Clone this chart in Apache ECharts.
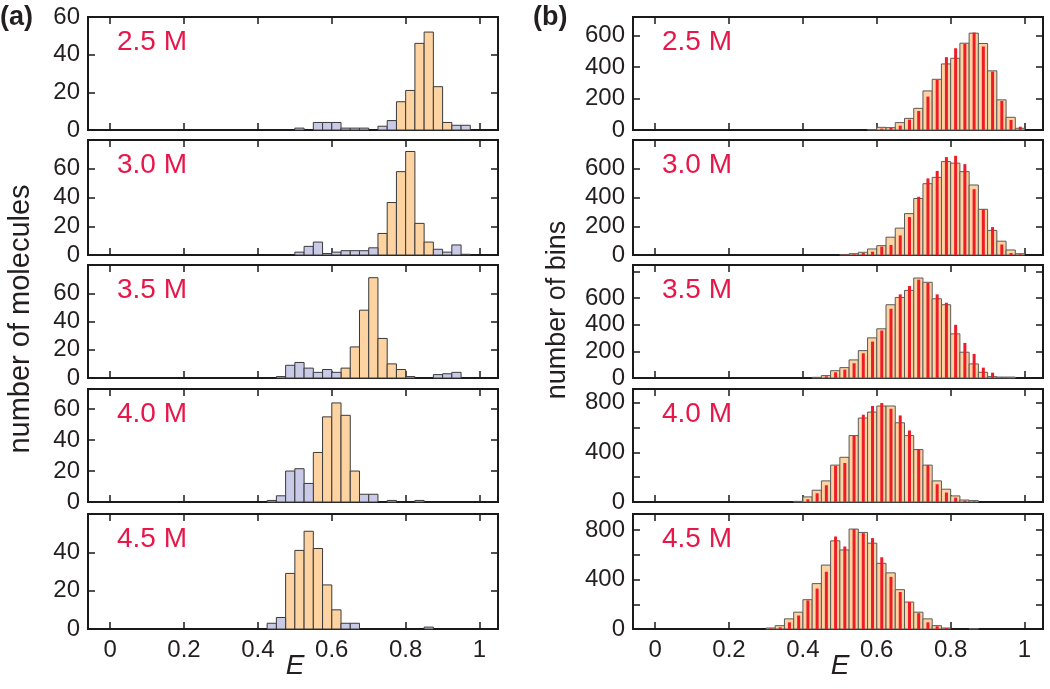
<!DOCTYPE html>
<html>
<head>
<meta charset="utf-8">
<script src="https://cdn.jsdelivr.net/npm/echarts@6/dist/echarts.min.js"></script>
<style>
html, body { margin: 0; padding: 0; background: #fff; }
#main { width: 1050px; height: 689px; }
</style>
</head>
<body>
<div id="main"></div>
<script>
// 浓度标签
var conc = ['2.5 M', '3.0 M', '3.5 M', '4.0 M', '4.5 M'];
var binW = 0.025;

// (a) 分子直方图, bin 起点 0.4 ... 0.975
var binsA = [0.4, 0.425, 0.45, 0.475, 0.5, 0.525, 0.55, 0.575, 0.6, 0.625, 0.65, 0.675,
             0.7, 0.725, 0.75, 0.775, 0.8, 0.825, 0.85, 0.875, 0.9, 0.925, 0.95, 0.975];
var org25a = [0,0,0,0,0,0,0,0,0,0,0,0,0,0,0,15,21,46,52,23,4,0,0,0];
var lav25a = [0,0,0,0,1,0,4,4,4,1,1,1,0,2,5,0,0,0,0,0,0,2.5,2.5,0];
var org30a = [0,0,0,0,0,0,0,0,0,0,0,0,0,15,36.5,58,72,22,9,0,0,0,0,0];
var lav30a = [0,0,0,0,2,6,9,1,2,3,3,3,5,0,0,0,0,0,0,4,2,7,0.5,0];
var org35a = [0,0,0,0,0,0,0,0,0,7,22,48,71,28,10,6,0,0,0,0,0,0,0,0];
var lav35a = [0,0,1,9,11,7,4,6,4,0,0,0,0,0,0,0,1,0,0,2.4,3,4,0,0];
var org40a = [0,0,0,0,0,0,32,55,64,56,20,0,0,0,0,0,0,0,0,0,0,0,0,0];
var lav40a = [0,1,4,20,21.5,12,0,0,0,0,0,5,5,0,1,0,0,1,0,0,0,0,0,0];
var org45a = [0,0,0,29,41,51,42,23,10,0,0,0,0,0,0,0,0,0,0,0,0,0,0,0];
var lav45a = [0,3,6,0,0,0,0,0,0,3,3,0,0,0,0,0,0,0,1,0,0,0,0,0];

// (b) bin 直方图, bin 起点 0.3 ... 0.975
var binsB = [0.3, 0.325, 0.35, 0.375, 0.4, 0.425, 0.45, 0.475, 0.5, 0.525, 0.55, 0.575, 0.6, 0.625,
             0.65, 0.675, 0.7, 0.725, 0.75, 0.775, 0.8, 0.825, 0.85, 0.875, 0.9, 0.925, 0.95, 0.975];
var org25b = [0,0,0,0,0,0,0,0,0,0,0,3,17,15,47,74,138,249,323,421,457,553,617,551,377,192,81,11];
var red25b = [0,0,0,0,0,0,0,0,0,0,0,0,9,13,28,66,121,213,319,464,521,549,621,532,372,185,64,21];
var org30b = [0,0,0,0,0,0,0,0,3,9,19,42,65,124,187,288,393,496,540,650,639,580,487,318,171,96,35,9];
var red30b = [0,0,0,0,0,0,0,0,3,5,14,23,58,70,136,264,405,533,585,681,690,632,458,318,194,73,14,5];
var org35b = [0,0,0,0,0,5,18,55,78,136,206,302,370,551,606,659,752,720,596,551,332,194,106,43,10,7,7,0];
var red35b = [0,0,0,0,0,3,13,43,63,111,186,274,357,521,629,692,740,715,629,566,400,264,181,78,40,5,0,0];
var org40b = [0,0,0,5,41,95,170,297,360,535,676,724,773,773,638,535,422,297,170,103,49,16,11,0,0,0,0,0];
var red40b = [0,0,0,5,22,70,135,292,314,535,703,773,797,751,697,576,427,297,143,76,35,11,5,0,0,0,0,0];
var org45b = [8,27,82,136,237,367,517,713,639,808,781,694,531,454,318,218,136,82,27,8,0,0,3,0,0,0,0,0];
var red45b = [5,14,54,109,231,327,463,748,667,808,775,735,580,422,299,218,128,54,22,8,0,0,0,0,0,0,0,0];

// y 轴刻度
var leftMax = [60, 80, 80, 73, 60];
var leftLabelMax = [60, 60, 60, 60, 40];
var rightMax = [720, 800, 850, 910, 930];
var rightLabelMax = [600, 600, 600, 800, 800];
var rightLabelStep = [200, 200, 200, 400, 400];

var orgA = [org25a, org30a, org35a, org40a, org45a];
var lavA = [lav25a, lav30a, lav35a, lav40a, lav45a];
var orgB = [org25b, org30b, org35b, org40b, org45b];
var redB = [red25b, red30b, red35b, red40b, red45b];

// 布局
var panelTop = [17, 140, 265, 389, 514];
var panelH = [113, 115, 113, 113, 115];
var font = 'Liberation Sans, Arial, Helvetica, sans-serif';
var ink = '#231f20';

var grids = [], xAxes = [], yAxes = [], series = [], texts = [];

function histSeries(g, bins, counts, fill, stroke) {
    return {
        type: 'custom', xAxisIndex: 2 * g, yAxisIndex: 2 * g, silent: true,
        data: bins.map(function (b, k) { return [b, counts[k]]; }),
        renderItem: function (params, api) {
            var y = api.value(1);
            if (!y) return null;
            var x0 = api.value(0);
            var p0 = api.coord([x0, 0]);
            var p1 = api.coord([x0 + binW, y]);
            return {
                type: 'rect',
                shape: { x: p0[0], y: p1[1], width: p1[0] - p0[0], height: p0[1] - p1[1] },
                style: { fill: fill, stroke: stroke, lineWidth: 1 }
            };
        }
    };
}

function redSeries(g, bins, counts) {
    return {
        type: 'custom', xAxisIndex: 2 * g, yAxisIndex: 2 * g, silent: true,
        data: bins.map(function (b, k) { return [b, counts[k]]; }),
        renderItem: function (params, api) {
            var y = api.value(1);
            if (!y) return null;
            var xc = api.value(0) + binW * 0.54;
            var p0 = api.coord([xc, 0]);
            var p1 = api.coord([xc, y]);
            return {
                type: 'rect',
                shape: { x: p0[0] - 1.5, y: p1[1], width: 3, height: p0[1] - p1[1] },
                style: { fill: '#ee1c25' }
            };
        }
    };
}

// 每个 panel: grid + 上下 x 轴 + 左右 y 轴, 按 push 顺序编号
function addPanel(left, i, yMax, interval, labelFn) {
    var g = grids.length;
    grids.push({
        left: left, width: 410, top: panelTop[i], height: panelH[i],
        show: true, borderColor: '#1a1a1a', borderWidth: 2, backgroundColor: 'transparent'
    });
    var tick = { inside: true, length: 7, lineStyle: { color: '#1a1a1a', width: 1.5 } };
    var noLine = { show: false, onZero: false };
    var xBase = {
        type: 'value', gridIndex: g, min: -0.06, max: 1.05, splitNumber: 5,
        axisLine: noLine, splitLine: { show: false }, axisTick: tick
    };
    xAxes.push(Object.assign({}, xBase, {
        position: 'bottom',
        axisLabel: {
            show: i === 4, margin: 9, fontSize: 24, color: ink, fontFamily: font,
            formatter: function (v) { return (v < -0.001 || v > 1.001) ? '' : String(v); }
        }
    }));
    xAxes.push(Object.assign({}, xBase, { position: 'top', axisLabel: { show: false } }));
    var yBase = {
        type: 'value', gridIndex: g, min: 0, max: yMax, interval: interval,
        axisLine: noLine, splitLine: { show: false }, axisTick: tick
    };
    yAxes.push(Object.assign({}, yBase, {
        position: 'left',
        axisLabel: { margin: 8, fontSize: 24, color: ink, fontFamily: font, formatter: labelFn }
    }));
    yAxes.push(Object.assign({}, yBase, { position: 'right', axisLabel: { show: false } }));
    texts.push({
        type: 'text', x: left + 29, y: panelTop[i] + 25,
        style: { text: conc[i], font: '28px ' + font, fill: '#e8174a', verticalAlign: 'middle' }
    });
    return g;
}

// (a) 列
for (var i = 0; i < 5; i++) {
    (function (i) {
        var g = addPanel(88, i, leftMax[i], 20, function (v) {
            return v > leftLabelMax[i] ? '' : String(v);
        });
        series.push(histSeries(g, binsA, orgA[i], '#fdd3a2', '#3a3a3a'));
        series.push(histSeries(g, binsA, lavA[i], '#c9c9e8', '#3a3a3a'));
    })(i);
}
// (b) 列
for (var j = 0; j < 5; j++) {
    (function (i) {
        var g = addPanel(633, i, rightMax[i], 200, function (v) {
            return (v > rightLabelMax[i] || v % rightLabelStep[i] !== 0) ? '' : String(v);
        });
        series.push(histSeries(g, binsB, orgB[i], '#fdd3a2', '#5a5a5a'));
        series.push(redSeries(g, binsB, redB[i]));
    })(j);
}

texts.push(
    { type: 'text', x: 0, y: 4, style: { text: '(a)', font: 'bold 27px ' + font, fill: ink } },
    { type: 'text', x: 533, y: 4, style: { text: '(b)', font: 'bold 27px ' + font, fill: ink } },
    { type: 'text', x: 295, y: 666, style: { text: 'E', font: 'italic 28px ' + font, fill: ink, align: 'center', verticalAlign: 'middle' } },
    { type: 'text', x: 840, y: 666, style: { text: 'E', font: 'italic 28px ' + font, fill: ink, align: 'center', verticalAlign: 'middle' } },
    { type: 'text', x: 21, y: 319, rotation: Math.PI / 2, style: { text: 'number of molecules', font: '29px ' + font, fill: ink, align: 'center', verticalAlign: 'middle' } },
    { type: 'text', x: 558, y: 310, rotation: Math.PI / 2, style: { text: 'number of bins', font: '27px ' + font, fill: ink, align: 'center', verticalAlign: 'middle' } }
);

var chart = echarts.init(document.getElementById('main'));
chart.setOption({
    animation: false,
    grid: grids,
    xAxis: xAxes,
    yAxis: yAxes,
    series: series,
    graphic: texts
});
</script>
</body>
</html>
